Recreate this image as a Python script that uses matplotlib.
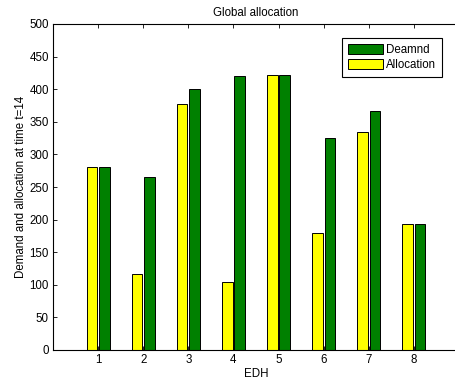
import matplotlib
matplotlib.use("Agg")
import matplotlib.pyplot as plt
import numpy as np

edh = [1, 2, 3, 4, 5, 6, 7, 8]
allocation = [280, 116, 377, 104, 422, 179, 334, 194]
demand = [280, 265, 400, 420, 422, 325, 367, 194]
yticks = [0, 50, 100, 150, 200, 250, 300, 350, 400, 450, 500]

plt.rcParams['font.family'] = ['Liberation Sans', 'DejaVu Sans']
fs = 8.3

fig = plt.figure(figsize=(4.56, 3.84), dpi=100)
# axes: left 53px, right ~459px, bottom 350px, top 24px
ax = fig.add_axes([53/456, (384-350)/384, 406/456, 326/384])

x = np.array(edh, dtype=float)
w = 0.235
off = 0.138
ax.bar(x - off, allocation, width=w, color='#ffff00', edgecolor='black', linewidth=0.7, label='Allocation', zorder=2)
ax.bar(x + off, demand, width=w, color='#008000', edgecolor='black', linewidth=0.7, label='Deamnd', zorder=2)

ax.set_xlim(0, 9)
ax.set_ylim(0, 500)
ax.set_xticks(edh)
ax.set_yticks(yticks)
ax.tick_params(direction='in', top=True, right=True, labelsize=fs, length=3, width=0.6, pad=3)
for s in ax.spines.values():
    s.set_linewidth(0.8)

ax.set_title('Global allocation', fontsize=fs, pad=6)
ax.set_xlabel('EDH', fontsize=fs, labelpad=1)
ax.set_ylabel('Demand and allocation at time t=14', fontsize=fs, labelpad=2)

handles, labels = ax.get_legend_handles_labels()
leg = ax.legend([handles[1], handles[0]], [labels[1], labels[0]],
                loc='upper right', bbox_to_anchor=((442-53)/406, (350-38)/326),
                fontsize=fs, fancybox=False, edgecolor='black', framealpha=1,
                handlelength=3.1, handleheight=1.0, borderpad=0.5, labelspacing=0.25,
                handletextpad=0.25, borderaxespad=0)
leg.get_frame().set_linewidth(0.8)

fig.savefig('out.png', dpi=100)
